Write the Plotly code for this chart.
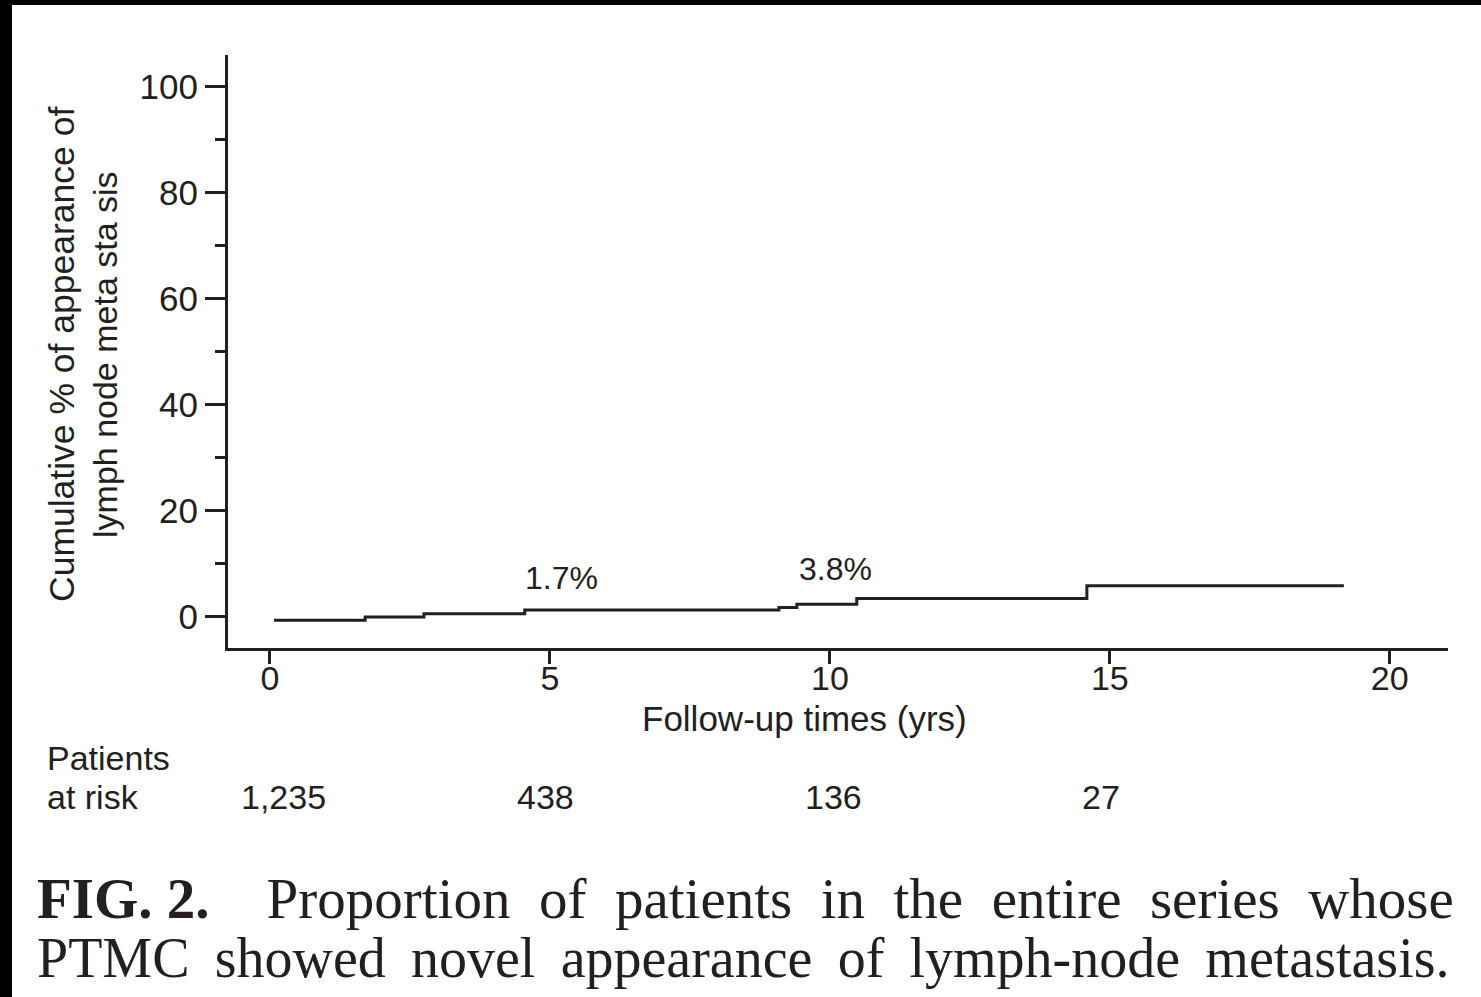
import plotly.graph_objects as go

# ---- data ----
step_times = [0.07, 1.70, 2.75, 4.55, 9.09, 9.41, 10.48, 14.59, 19.18]
step_levels = [-0.6, 0.0, 0.6, 1.3, 1.8, 2.4, 3.5, 5.9, 5.9]
label_texts = ["1.7%", "3.8%"]
label_times = [5.2, 10.1]
label_levels = [7.3, 9.0]
risk_times = [0, 5, 10, 15]
risk_counts = ["1,235", "438", "136", "27"]
y_ticks = [0, 20, 40, 60, 80, 100]
x_ticks = [0, 5, 10, 15, 20]
caption_line1 = ["Proportion", "of", "patients", "in", "the", "entire", "series", "whose"]
caption_line2 = ["PTMC", "showed", "novel", "appearance", "of", "lymph-node", "metastasis."]

W, H = 1481, 997
L, R, T, B = 228, 1448, 55, 648
INK = "#231f20"
SANS = "Liberation Sans, Arial, sans-serif"
SERIF = "Liberation Serif, Times New Roman, serif"
NB = "\u00a0"
THIN = "\u2009"


def px(x):
    return (x - L) / (R - L)


def py(y):
    return (B - y) / (B - T)


fig = go.Figure()
fig.add_trace(go.Scatter(
    x=step_times, y=step_levels, mode="lines",
    line=dict(shape="hv", color=INK, width=3),
    hoverinfo="skip", showlegend=False,
))

annotations = []
for txt, t, v in zip(label_texts, label_times, label_levels):
    annotations.append(dict(x=t, y=v, xref="x", yref="y", text=txt, showarrow=False,
                            font=dict(family=SANS, size=32, color=INK),
                            xanchor="center", yanchor="middle"))

# axis titles
annotations.append(dict(x=px(62), y=py(355), xref="paper", yref="paper",
                        text="Cumulative % of appearance of", textangle=-90, showarrow=False,
                        font=dict(family=SANS, size=35.5, color=INK),
                        xanchor="center", yanchor="middle"))
annotations.append(dict(x=px(105), y=py(355), xref="paper", yref="paper",
                        text="lymph node meta sta sis", textangle=-90, showarrow=False,
                        font=dict(family=SANS, size=34, color=INK),
                        xanchor="center", yanchor="middle"))
annotations.append(dict(x=px(804), y=py(718), xref="paper", yref="paper",
                        text="Follow-up times (yrs)", showarrow=False,
                        font=dict(family=SANS, size=35, color=INK),
                        xanchor="center", yanchor="middle"))

# patients at risk
annotations.append(dict(x=px(45), y=py(758), xref="paper", yref="paper",
                        text="Patients", showarrow=False,
                        font=dict(family=SANS, size=34, color=INK),
                        xanchor="left", yanchor="middle"))
annotations.append(dict(x=px(45), y=py(797), xref="paper", yref="paper",
                        text="at risk", showarrow=False,
                        font=dict(family=SANS, size=34, color=INK),
                        xanchor="left", yanchor="middle"))
risk_shift = [14, -4, 4, -9]
for t, c, s in zip(risk_times, risk_counts, risk_shift):
    annotations.append(dict(x=t, y=py(797), xref="x", yref="paper", text=c,
                            showarrow=False, xshift=s,
                            font=dict(family=SANS, size=34, color=INK),
                            xanchor="center", yanchor="middle"))

# caption (justified with extra spacing characters)
cap1 = "<b>FIG. 2.</b>" + " " + NB * 3 + (" " + NB).join(caption_line1)
cap2 = (" " + THIN).join(caption_line2)
annotations.append(dict(x=px(35), y=py(898), xref="paper", yref="paper",
                        text=cap1, showarrow=False,
                        font=dict(family=SERIF, size=57, color=INK),
                        xanchor="left", yanchor="middle"))
annotations.append(dict(x=px(35), y=py(958), xref="paper", yref="paper",
                        text=cap2, showarrow=False,
                        font=dict(family=SERIF, size=56, color=INK),
                        xanchor="left", yanchor="middle"))

shapes = [
    dict(type="rect", xref="paper", yref="paper", x0=px(0), x1=px(12), y0=py(0), y1=py(H),
         fillcolor="black", line=dict(width=0), layer="above"),
    dict(type="rect", xref="paper", yref="paper", x0=px(0), x1=px(W), y0=py(0), y1=py(5),
         fillcolor="black", line=dict(width=0), layer="above"),
]

fig.update_layout(
    width=W, height=H,
    margin=dict(l=L, r=W - R, t=T, b=H - B, pad=0),
    paper_bgcolor="white", plot_bgcolor="white",
    showlegend=False,
    annotations=annotations,
    shapes=shapes,
    xaxis=dict(range=[-0.75, 21.04], tickvals=x_ticks, ticktext=[str(v) for v in x_ticks],
               showline=True, linecolor=INK, linewidth=3, ticks="outside", ticklen=13,
               tickwidth=3, tickcolor=INK, showgrid=False, zeroline=False,
               ticklabelstandoff=-15,
               tickfont=dict(family=SANS, size=34, color=INK)),
    yaxis=dict(range=[-5.85, 106], tickvals=y_ticks, ticktext=[str(v) for v in y_ticks],
               showline=True, linecolor=INK, linewidth=3, ticks="outside", ticklen=20,
               tickwidth=3, tickcolor=INK, showgrid=False, zeroline=False,
               tickfont=dict(family=SANS, size=35, color=INK),
               minor=dict(tickvals=[10, 30, 50, 70, 90], ticks="outside", ticklen=10,
                          tickwidth=3, tickcolor=INK, showgrid=False)),
)

fig.write_html("out.html")
